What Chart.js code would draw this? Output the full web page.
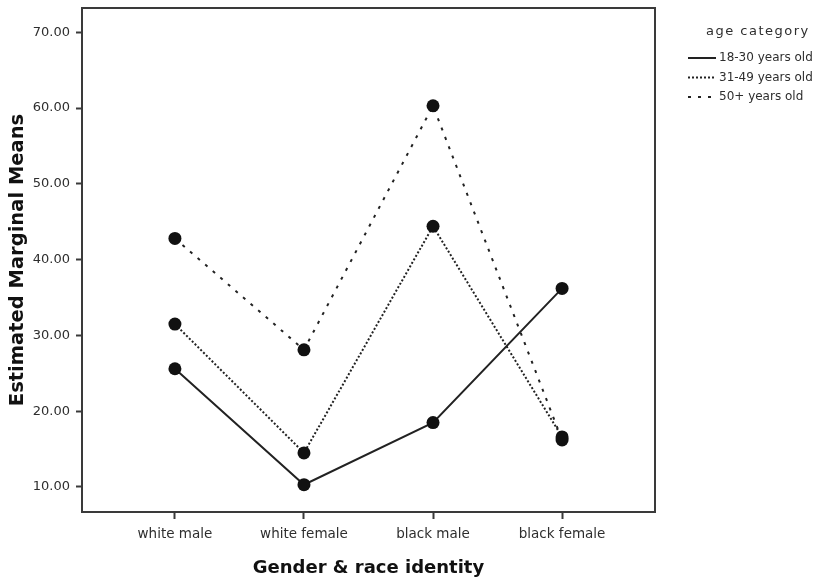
<!DOCTYPE html>
<html>
<head>
<meta charset="utf-8">
<script src="https://cdn.jsdelivr.net/npm/chart.js@4.4.1/dist/chart.umd.min.js"></script>
<style>
  html, body { margin: 0; padding: 0; background: #fff; }
  #wrap { width: 834px; height: 579px; position: relative; }
</style>
</head>
<body>
<div id="wrap"><canvas id="c" width="834" height="579"></canvas></div>
<script>
// Groups along the horizontal axis
const categories = ['white male', 'white female', 'black male', 'black female'];

// Estimated marginal means for each age category
const age18to30 = [25.6, 10.3, 18.5, 36.2];
const age31to49 = [31.5, 14.5, 44.4, 16.6];
const age50plus = [42.8, 28.1, 60.3, 16.2];

const seriesLabels = ['18-30 years old', '31-49 years old', '50+ years old'];
const yTickValues = [10, 20, 30, 40, 50, 60, 70];

const INK = '#222';
const TEXT = '#2e2e2e';
const FONT = '"DejaVu Sans", "Liberation Sans", Arial, sans-serif';

function toPoints(values) {
  return values.map((v, i) => ({ x: i, y: v }));
}

function makeSeries(label, values, dash) {
  return {
    label: label,
    data: toPoints(values),
    borderColor: INK,
    backgroundColor: '#111',
    borderWidth: 2,
    borderDash: dash,
    pointRadius: 6.5,
    pointHoverRadius: 6.5,
    pointBackgroundColor: '#111',
    pointBorderColor: '#111',
    pointBorderWidth: 0,
    tension: 0,
    fill: false
  };
}

// Box around the plotting area
const frame = {
  id: 'frame',
  afterDatasetsDraw(chart) {
    const { ctx, chartArea: a } = chart;
    ctx.save();
    ctx.strokeStyle = '#3a3a3a';
    ctx.lineWidth = 2;
    ctx.strokeRect(a.left, a.top, a.right - a.left, a.bottom - a.top);
    ctx.restore();
  }
};

// Legend with title, drawn to the right of the plot
const sideLegend = {
  id: 'sideLegend',
  afterDraw(chart) {
    const { ctx, chartArea: a } = chart;
    const x0 = a.right + 33;
    ctx.save();
    ctx.fillStyle = TEXT;
    ctx.textBaseline = 'middle';
    ctx.textAlign = 'left';
    ctx.font = '13px ' + FONT;
    ctx.letterSpacing = '1.5px';
    ctx.fillText('age category', x0 + 18, a.top + 24);
    ctx.letterSpacing = '0px';
    ctx.font = '12px ' + FONT;
    chart.data.datasets.forEach((ds, i) => {
      const y = a.top + 50 + i * 19.5;
      ctx.strokeStyle = INK;
      ctx.lineWidth = 2;
      ctx.setLineDash(ds.borderDash || []);
      ctx.beginPath();
      ctx.moveTo(x0, y);
      ctx.lineTo(x0 + 28, y);
      ctx.stroke();
      ctx.setLineDash([]);
      ctx.fillText(ds.label, x0 + 31, y);
    });
    ctx.restore();
  }
};

// Keep the axis boxes at fixed sizes, without edge padding for labels
function fixBox(size, vertical) {
  return function (scale) {
    if (vertical) { scale.width = size; } else { scale.height = size; }
    scale.paddingTop = 0;
    scale.paddingBottom = 0;
    scale.paddingLeft = 0;
    scale.paddingRight = 0;
  };
}

new Chart(document.getElementById('c'), {
  type: 'line',
  data: {
    datasets: [
      makeSeries(seriesLabels[0], age18to30, []),
      makeSeries(seriesLabels[1], age31to49, [2, 2]),
      makeSeries(seriesLabels[2], age50plus, [3, 7])
    ]
  },
  options: {
    responsive: false,
    animation: false,
    events: [],
    layout: { padding: { left: 0, top: 8, right: 179, bottom: 0 } },
    plugins: {
      legend: { display: false },
      tooltip: { enabled: false }
    },
    scales: {
      x: {
        type: 'linear',
        min: -0.72,
        max: 3.72,
        afterBuildTicks(scale) {
          scale.ticks = categories.map((_, i) => ({ value: i }));
        },
        afterFit: fixBox(67, false),
        grid: {
          drawOnChartArea: false,
          drawTicks: true,
          tickLength: 7,
          tickWidth: 2,
          color: '#3a3a3a'
        },
        border: { display: false },
        ticks: {
          autoSkip: false,
          maxRotation: 0,
          padding: 7,
          color: TEXT,
          font: { family: FONT, size: 13.5 },
          callback: (v) => categories[v]
        },
        title: {
          display: true,
          text: 'Gender & race identity',
          color: '#111',
          padding: { top: 10, bottom: 0 },
          font: { family: FONT, size: 18, weight: 'bold' }
        }
      },
      y: {
        type: 'linear',
        min: 6.7,
        max: 73.2,
        afterBuildTicks(scale) {
          scale.ticks = yTickValues.map(v => ({ value: v }));
        },
        afterFit: fixBox(82, true),
        grid: {
          drawOnChartArea: false,
          drawTicks: true,
          tickLength: 6,
          tickWidth: 2,
          color: '#3a3a3a'
        },
        border: { display: false },
        ticks: {
          padding: 6,
          color: TEXT,
          font: { family: FONT, size: 13 },
          callback: (v) => v.toFixed(2)
        },
        title: {
          display: true,
          text: 'Estimated Marginal Means',
          color: '#111',
          padding: { top: 6, bottom: 0 },
          font: { family: FONT, size: 19.5, weight: 'bold' }
        }
      }
    }
  },
  plugins: [frame, sideLegend]
});
</script>
</body>
</html>
